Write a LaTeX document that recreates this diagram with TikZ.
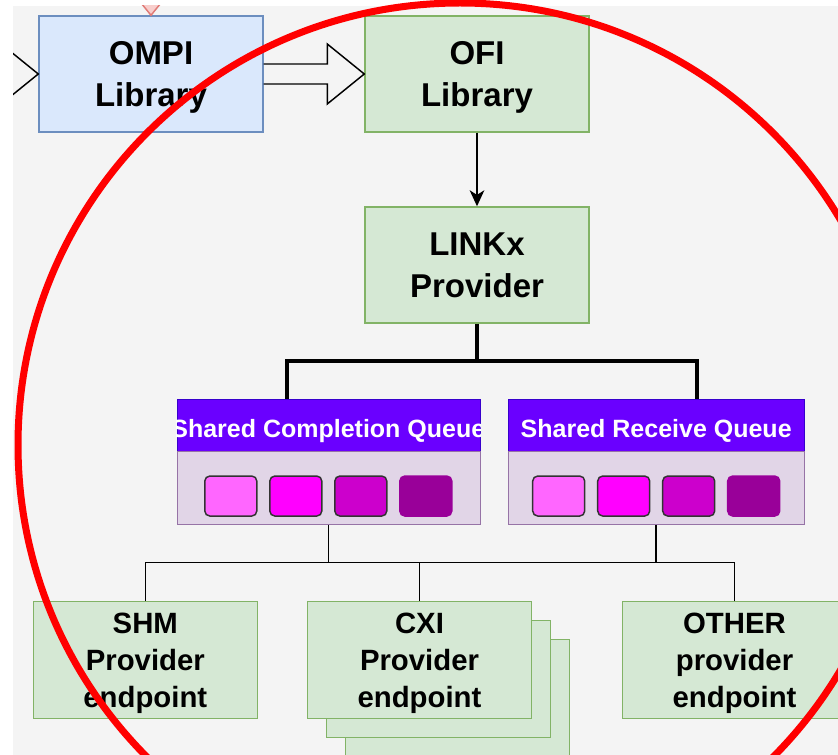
\documentclass[tikz,border=0pt]{standalone}
\usepackage{fontspec}
\setmainfont{Liberation Sans}
\usetikzlibrary{arrows.meta,positioning,calc}
\definecolor{bggray}{HTML}{F4F4F4}
\definecolor{bluefill}{HTML}{DAE8FC}
\definecolor{blueline}{HTML}{6C8EBF}
\definecolor{greenfill}{HTML}{D5E8D4}
\definecolor{greenline}{HTML}{82B366}
\definecolor{headfill}{HTML}{6A00FF}
\definecolor{headline}{HTML}{3700CC}
\definecolor{bodyfill}{HTML}{E1D5E7}
\definecolor{bodyline}{HTML}{9673A6}
\definecolor{cellA}{HTML}{FF66FF}
\definecolor{cellB}{HTML}{FF00FF}
\definecolor{cellC}{HTML}{CC00CC}
\definecolor{cellD}{HTML}{990099}
\definecolor{pinkfill}{HTML}{F8CECC}
\definecolor{pinkline}{HTML}{E07A76}
\newcommand \blockarrow[3][black]
{
\coordinate (hb) at ($(#3)!27.75pt!(#2)$);                          % head base
\draw[#1, line width=1.1pt] ($(#2)!7.5pt!90:(#3)$) -- ($(hb)!7.5pt!90:(#3)$)
  -- ($(hb)!22.5pt!90:(#3)$) -- (#3) -- ($(hb)!22.5pt!-90:(#3)$)
  -- ($(hb)!7.5pt!-90:(#3)$) -- ($(#2)!7.5pt!-90:(#3)$);
}

\begin{document}
\begin{tikzpicture}[x=0.75pt, y=-0.75pt, line join=miter,
  box/.style={draw=greenline, fill=greenfill, line width=1.1pt, minimum width=168pt, minimum height=87pt, align=center, inner sep=0pt, text depth=0pt},
  topbox/.style={box, font=\fontsize{24.75}{31.5}\selectfont\bfseries},
  endbox/.style={box, minimum height=87.75pt, font=\fontsize{22}{27.75}\selectfont\bfseries},
  headbar/.style={draw=headline, fill=headfill, minimum height=38.75pt, inner sep=0pt},
  bodybar/.style={draw=bodyline, fill=bodyfill, minimum height=55pt, inner sep=0pt},
  headtext/.style={text=white, font=\fontsize{18.75}{22}\selectfont\bfseries, inner sep=0pt, text depth=0pt},
  cell/.style={rounded corners=3.75pt, minimum width=39pt, minimum height=30pt, line width=1.1pt, inner sep=0pt},
  bus/.style={line width=3pt},
  wire/.style={line width=1.1pt}]
\useasboundingbox (0,0) rectangle (838,755);
\fill[bggray] (13,6) rectangle (838,755);

\node[topbox, draw=blueline, fill=bluefill] (ompi) at (151,74) {OMPI\\Library};
\node[topbox] (ofi) at (477,74) {OFI\\Library};
\node[topbox] (linkx) at (477,265) {LINKx\\Provider};
\blockarrow{ompi.east}{ofi.west}
\begin{scope}
\clip (13,6) rectangle (838,755);
\coordinate (inL) at (-60,74);
\coordinate (inT) at (151,-60);
\blockarrow{inL}{ompi.west}
\blockarrow[draw=pinkline, fill=pinkfill]{inT}{ompi.north}
\end{scope}
\draw[wire, -{Stealth[length=12pt, width=11pt, inset=3.5pt]}] (ofi) -- (linkx);

% queues
\node[headbar, minimum width=227.25pt] (scqh) at (328.3,425) {};
\node[bodybar, minimum width=227.25pt, below=0pt of scqh] (scqb) {};
\node[headbar, minimum width=221.75pt] (srqh) at (656.2,425) {};
\node[bodybar, minimum width=221.75pt, below=0pt of srqh] (srqb) {};
\foreach \q/\t in {scqh/Shared Completion Queue, srqh/Shared Receive Queue}
{
\begin{scope}
\clip (\q.north west) rectangle (\q.south east);
\node[headtext] (\q t) at ($(\q)+(0,3)$) {\t};
\end{scope}
}
\foreach \q in {scqb, srqb}
  \foreach \c/\e [count=\i] in {cellA/black!80, cellB/black!80, cellC/black!80, cellD/cellD}
    \node[cell, fill=\c, draw=\e] (\q c\i) at ($(\q)+({(\i-2.5)*65},8)$) {};

\coordinate (busL) at (287.3,361);
\coordinate (busR) at (697.3,361);
\draw[bus] (linkx.south) -- (linkx.south |- busL);
\draw[bus] (scqh.north -| busL) -- (busL) -- (busR) -- (srqh.north -| busR);

% endpoints
\node[endbox] (cxiback2) at (457.5,698) {};
\node[endbox] (cxiback1) at (438.5,679) {};
\node[endbox] (shm) at (145.3,660) {SHM\\Provider\\endpoint};
\node[endbox] (cxi) at (419.5,660) {CXI\\Provider\\endpoint};
\node[endbox] (other) at (734.5,660) {OTHER\\provider\\endpoint};
\coordinate (drop) at (0,562.7);
\draw[wire] (shm.north) |- (other.north |- drop) -- (other.north);
\draw[wire] (scqb.south) -- (scqb.south |- drop);
\draw[wire] (srqb.south) -- (srqb.south |- drop);
\draw[wire] (cxi.north) -- (cxi.north |- drop);

\draw[red, line width=5.25pt] (460,445) circle[radius=442];
\end{tikzpicture}
\end{document}
